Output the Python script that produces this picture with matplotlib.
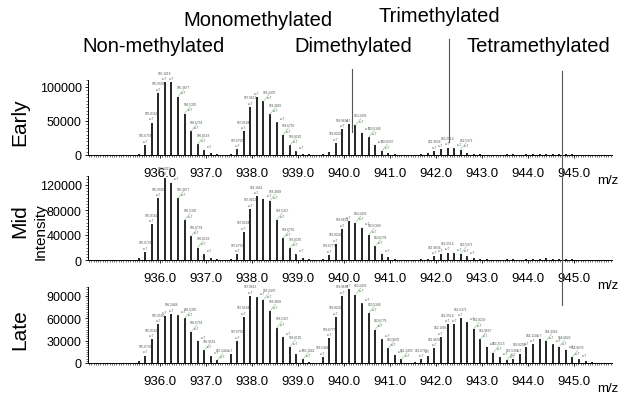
import matplotlib
matplotlib.use("Agg")
import matplotlib.pyplot as plt
import matplotlib.transforms as mtransforms
from matplotlib.lines import Line2D
from matplotlib.ticker import MultipleLocator

plt.rcParams["font.family"] = ["Liberation Sans", "DejaVu Sans"]

# isotope peaks (z=7) of each methylation state
mz_non = [935.5304, 935.6733, 935.8162, 935.9590, 936.1019, 936.2448, 936.3877,
          936.5305, 936.6734, 936.8163, 936.9591, 937.1020, 937.2449]
mz_mono = [937.5326, 937.6755, 937.8184, 937.9612, 938.1041, 938.2470, 938.3899,
           938.5327, 938.6756, 938.8185, 938.9613, 939.1042, 939.2471]
mz_di = [939.5348, 939.6777, 939.8206, 939.9634, 940.1063, 940.2492, 940.3921,
         940.5349, 940.6778, 940.8207, 940.9635, 941.1064, 941.2493]
mz_tri = [941.5370, 941.6799, 941.8228, 941.9656, 942.1085, 942.2514, 942.3943,
          942.5371, 942.6800, 942.8229, 942.9657, 943.1086, 943.2515, 943.3943]
mz_tetra = [943.5392, 943.6821, 943.8250, 943.9678, 944.1107, 944.2536, 944.3965,
            944.5393, 944.6822, 944.8251, 944.9679, 945.1108, 945.2537, 945.3966]

# intensities
early_non = [1500, 14600, 47700, 91500, 107000, 107000, 86000, 61000, 35000, 16000, 7500, 2500, 800]
early_mono = [1500, 8500, 35000, 71000, 85000, 79000, 60000, 48000, 30000, 14000, 5500, 2000, 800]
early_di = [800, 4000, 18000, 38000, 45000, 44000, 33000, 26000, 15000, 6000, 2500, 800, 300]
early_tri = [500, 1500, 3000, 6000, 9000, 11000, 10000, 8000, 3500, 1500, 800, 500, 300, 200]
early_tetra = [1200, 800, 600, 1000, 1500, 2000, 2200, 2000, 1500, 1200, 1000, 700, 500, 300]

mid_non = [3000, 13000, 57000, 99000, 132000, 124000, 99000, 64000, 38000, 20000, 9000, 3000, 1000]
mid_mono = [2000, 9000, 45000, 82000, 102000, 98000, 95000, 64000, 35000, 19000, 9000, 4000, 1000]
mid_di = [2000, 8000, 26000, 50000, 62000, 60000, 52000, 40000, 22000, 10000, 5000, 2000, 800]
mid_tri = [500, 1000, 2000, 6000, 10000, 12000, 11000, 10000, 6000, 3000, 2000, 1000, 500, 300]
mid_tetra = [1500, 1000, 800, 1000, 1500, 2000, 2500, 2000, 1500, 1000, 1200, 800, 500, 300]

late_non = [3000, 10000, 32000, 52000, 63000, 66000, 64000, 60000, 42000, 30000, 17000, 9000, 4000]
late_mono = [12000, 30000, 62000, 90000, 88000, 85000, 70000, 47000, 35000, 22000, 12000, 5000, 2000]
late_di = [8000, 33000, 62000, 90000, 99000, 92000, 80000, 67000, 45000, 32000, 20000, 11000, 5000]
late_tri = [2000, 5000, 10000, 20000, 35000, 52000, 52000, 60000, 55000, 46000, 32000, 22000, 14000, 8000]
late_tetra = [4000, 6000, 12000, 22000, 25000, 32000, 30000, 25000, 22000, 18000, 8000, 5000, 2500, 1500]

states = ["Non-methylated", "Monomethylated", "Dimethylated", "Trimethylated", "Tetramethylated"]
x_ticks = [936, 937, 938, 939, 940, 941, 942, 943, 944, 945]

W, H = 624, 402
fig = plt.figure(figsize=(W / 100, H / 100), dpi=100)

mz_all = mz_non + mz_mono + mz_di + mz_tri + mz_tetra

# name, intensities, ylim, yticks, minor step, zero line px
panels = [
    ("Early", early_non + early_mono + early_di + early_tri + early_tetra,
     110000, [0, 50000, 100000], 5000, 156),
    ("Mid", mid_non + mid_mono + mid_di + mid_tri + mid_tetra,
     135000, [0, 40000, 80000, 120000], 5000, 261),
    ("Late", late_non + late_mono + late_di + late_tri + late_tetra,
     102000, [0, 30000, 60000, 90000], 3000, 364),
]
px_per_unit = [68 / 100000, 75 / 120000, 67 / 90000]

axes = []
for (name, ints, ymax, yticks, ystep, base), ppu in zip(panels, px_per_unit):
    h_px = ymax * ppu
    ax = fig.add_axes([88 / W, 1 - base / H, (612 - 88) / W, h_px / H])
    ax.vlines(mz_all, 0, ints, color="black", lw=1.2)
    ax.set_xlim(934.43, 945.83)
    ax.set_ylim(0, ymax)
    ax.set_xticks(x_ticks)
    ax.set_xticklabels([f"{t:.1f}" for t in x_ticks])
    ax.xaxis.set_minor_locator(MultipleLocator(0.05))
    ax.set_yticks(yticks)
    ax.yaxis.set_minor_locator(MultipleLocator(ystep))
    ax.tick_params(axis="x", which="major", labelsize=9.5, length=2.5, width=0.6, pad=6)
    ax.tick_params(axis="y", which="major", labelsize=9, length=2.5, width=0.6, pad=2)
    ax.tick_params(axis="both", which="minor", length=1.5, width=0.4)
    for s in ["top", "right"]:
        ax.spines[s].set_visible(False)
    for s in ["left", "bottom"]:
        ax.spines[s].set_linewidth(0.7)
    ax.patch.set_alpha(0)

    # peak labels (m/z over z=7); crowded neighbours keep only the charge
    top = max(ints)
    prev_h = 0
    prev_lab = None
    for i, (mz, h) in enumerate(zip(mz_all, ints)):
        if h >= 0.04 * top:
            crowded = prev_lab is not None and prev_lab[0] == i - 1 \
                and abs(h - prev_lab[1]) * ppu < 10
            text = "z=7" if crowded else f"{mz:.4f}\nz=7"
            if prev_h > h:
                ax.annotate(text, xy=(mz, h), xytext=(4, 1.5),
                            textcoords="offset points", ha="center", va="bottom",
                            fontsize=2.3, color="#555555", linespacing=1.5,
                            arrowprops=dict(arrowstyle="-", color="#8fd68f", lw=0.5,
                                            shrinkA=0, shrinkB=0))
            else:
                ax.annotate(text, xy=(mz, h), xytext=(0, 1.5),
                            textcoords="offset points", ha="center", va="bottom",
                            fontsize=2.3, color="#555555", linespacing=1.5)
            prev_lab = (i, h) if not crowded else None
        prev_h = h

    fig.text(608 / W, 1 - (base + 25) / H, "m/z", ha="center", va="center", fontsize=9.5)
    axes.append(ax)

fig.text(20 / W, 1 - 122 / H, "Early", rotation=90, ha="center", va="center", fontsize=15)
fig.text(20 / W, 1 - 221 / H, "Mid", rotation=90, ha="center", va="center", fontsize=15)
fig.text(41 / W, 1 - 232 / H, "Intensity", rotation=90, ha="center", va="center", fontsize=11)
fig.text(20 / W, 1 - 330 / H, "Late", rotation=90, ha="center", va="center", fontsize=15)

# state labels and pointer lines
label_pos = [(153, 46), (258, 20), (353, 46), (439, 17), (538, 46)]
for s, (x, y) in zip(states, label_pos):
    fig.text(x / W, 1 - y / H, s, ha="center", va="center", fontsize=14.5)

trans = mtransforms.blended_transform_factory(axes[0].transData, fig.transFigure)
pointers = [(940.17, 70, 133), (942.28, 40, 143), (944.74, 72, 306)]
for x, y0, y1 in pointers:
    fig.add_artist(Line2D([x, x], [1 - y0 / H, 1 - y1 / H], transform=trans,
                          color="#555555", lw=0.8))

fig.savefig("out.png", dpi=100)
